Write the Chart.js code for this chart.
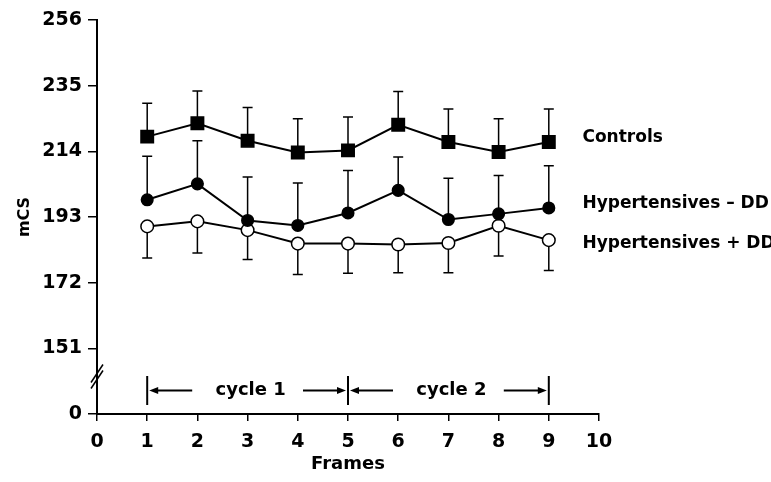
<!DOCTYPE html>
<html>
<head>
<meta charset="utf-8">
<script src="https://cdn.jsdelivr.net/npm/chart.js@4/dist/chart.umd.min.js"></script>
<style>
  html, body { margin: 0; padding: 0; background: #fff; }
</style>
</head>
<body>
<canvas id="mcsChart" width="771" height="482"></canvas>
<script>
// values (mean, and one-sided SD bar)
const frames = [1, 2, 3, 4, 5, 6, 7, 8, 9];
const controls = [218.7, 223.0, 217.4, 213.6, 214.3, 222.5, 217.0, 213.8, 217.0];
const controlsSD = [10.7, 10.3, 10.6, 10.8, 10.7, 10.6, 10.5, 10.6, 10.5];
const htMinusDD = [198.5, 203.6, 191.9, 190.3, 194.3, 201.5, 192.2, 194.0, 195.9];
const htMinusSD = [13.9, 13.8, 13.9, 13.6, 13.6, 10.7, 13.2, 12.3, 13.5];
const htPlusDD = [190.0, 191.6, 188.8, 184.5, 184.5, 184.2, 184.7, 190.2, 185.6];
const htPlusSD = [10.1, 10.1, 9.4, 9.9, 9.5, 9.0, 9.5, 9.7, 9.7];
const seriesNames = ['Controls', 'Hypertensives \u2013 DD', 'Hypertensives + DD'];
const yTicks = [0, 151, 172, 193, 214, 235, 256];
const yBreakBase = 130; // where "0" sits below the axis break
const cycleBounds = [1, 5, 9];
const cycleNames = ['cycle 1', 'cycle 2'];

const FONT = 'DejaVu Sans';
Chart.defaults.font.family = FONT;
Chart.defaults.color = '#000';

const toPts = arr => arr.map((v, i) => ({ x: frames[i], y: v }));

// error bars drawn under the markers
const errorBars = {
  id: 'errorBars',
  beforeDatasetsDraw(chart) {
    const { ctx } = chart;
    const y = chart.scales.y;
    ctx.save();
    ctx.strokeStyle = '#000';
    ctx.lineWidth = 1.5;
    chart.data.datasets.forEach((ds, i) => {
      chart.getDatasetMeta(i).data.forEach((pt, j) => {
        const end = y.getPixelForValue(ds.data[j].y + ds.errDir * ds.sd[j]);
        ctx.beginPath();
        ctx.moveTo(pt.x, pt.y);
        ctx.lineTo(pt.x, end);
        ctx.moveTo(pt.x - 5, end);
        ctx.lineTo(pt.x + 5, end);
        ctx.stroke();
      });
    });
    ctx.restore();
  }
};

function arrow(ctx, from, to, y) {
  const dir = Math.sign(to - from);
  ctx.beginPath();
  ctx.moveTo(from, y);
  ctx.lineTo(to - dir * 8, y);
  ctx.stroke();
  ctx.beginPath();
  ctx.moveTo(to, y);
  ctx.lineTo(to - dir * 9, y - 3.5);
  ctx.lineTo(to - dir * 9, y + 3.5);
  ctx.closePath();
  ctx.fill();
}

const extras = {
  id: 'extras',
  afterDraw(chart) {
    const { ctx, chartArea } = chart;
    const x = chart.scales.x, y = chart.scales.y;
    ctx.save();
    ctx.fillStyle = '#000';
    ctx.strokeStyle = '#000';

    // series labels at the right end of each line
    const labelDy = [-4, -4, 3];
    ctx.font = 'bold 17px ' + FONT;
    ctx.textAlign = 'left';
    ctx.textBaseline = 'middle';
    chart.data.datasets.forEach((ds, i) => {
      const last = chart.getDatasetMeta(i).data[ds.data.length - 1];
      ctx.fillText(seriesNames[i], x.getPixelForValue(9.67), last.y + labelDy[i]);
    });

    // axis break marks
    const bx = chartArea.left, by = y.getPixelForValue(142);
    ctx.lineWidth = 1.5;
    [-3, 3].forEach(o => {
      ctx.beginPath();
      ctx.moveTo(bx - 6, by + o + 9);
      ctx.lineTo(bx + 6, by + o - 9);
      ctx.stroke();
    });

    // cycle brackets
    const top = chartArea.bottom - 38, bot = chartArea.bottom - 9, ay = chartArea.bottom - 23.5;
    ctx.lineWidth = 2;
    cycleBounds.forEach(b => {
      const px = x.getPixelForValue(b);
      ctx.beginPath();
      ctx.moveTo(px, top);
      ctx.lineTo(px, bot);
      ctx.stroke();
    });
    ctx.font = 'bold 18px ' + FONT;
    ctx.textAlign = 'center';
    for (let i = 0; i < cycleNames.length; i++) {
      const a = x.getPixelForValue(cycleBounds[i]);
      const b = x.getPixelForValue(cycleBounds[i + 1]);
      ctx.fillText(cycleNames[i], (a + b) / 2 + 3, ay);
      arrow(ctx, a + 45, a + 2, ay);
      arrow(ctx, b - 45, b - 2, ay);
    }
    ctx.restore();
  }
};

const base = {
  borderColor: '#000',
  borderWidth: 2,
  pointBorderColor: '#000',
  pointBorderWidth: 1.5,
  tension: 0,
  clip: false
};

new Chart(document.getElementById('mcsChart'), {
  type: 'line',
  data: {
    datasets: [
      { ...base, label: seriesNames[0], data: toPts(controls), sd: controlsSD, errDir: 1,
        pointStyle: 'rect', pointRadius: 8.8, pointBackgroundColor: '#000' },
      { ...base, label: seriesNames[1], data: toPts(htMinusDD), sd: htMinusSD, errDir: 1,
        pointStyle: 'circle', pointRadius: 5.8, pointBackgroundColor: '#000' },
      { ...base, label: seriesNames[2], data: toPts(htPlusDD), sd: htPlusSD, errDir: -1,
        pointStyle: 'circle', pointRadius: 6.3, pointBackgroundColor: '#fff' }
    ]
  },
  options: {
    responsive: false,
    animation: false,
    layout: { padding: { top: 20, right: 172, left: 0, bottom: 0 } },
    plugins: { legend: { display: false }, tooltip: { enabled: false } },
    scales: {
      x: {
        type: 'linear',
        min: 0,
        max: 10,
        ticks: { stepSize: 1, color: '#000', font: { size: 19, weight: 'bold' }, padding: 10, maxRotation: 0 },
        grid: { drawOnChartArea: false, tickLength: 7, color: '#000', lineWidth: 1.5 },
        border: { color: '#000', width: 2 },
        title: { display: true, text: 'Frames', color: '#000', font: { size: 18, weight: 'bold' }, padding: { top: 0, bottom: 7 } },
        afterFit: s => { s.height = 68; }
      },
      y: {
        min: yBreakBase,
        max: 256,
        afterBuildTicks: s => { s.ticks = yTicks.map(v => ({ value: v === 0 ? yBreakBase : v })); },
        ticks: { callback: v => (v === yBreakBase ? '0' : String(v)), color: '#000', font: { size: 19, weight: 'bold' }, padding: 6 },
        grid: { drawOnChartArea: false, tickLength: 9, color: '#000', lineWidth: 1.5 },
        border: { color: '#000', width: 2 },
        title: { display: true, text: 'mCS', color: '#000', font: { size: 16, weight: 'bold' }, padding: { top: 15, bottom: 0 }, align: 'center' },
        afterFit: s => { s.width = 97; }
      }
    }
  },
  plugins: [errorBars, extras]
});
</script>
</body>
</html>
